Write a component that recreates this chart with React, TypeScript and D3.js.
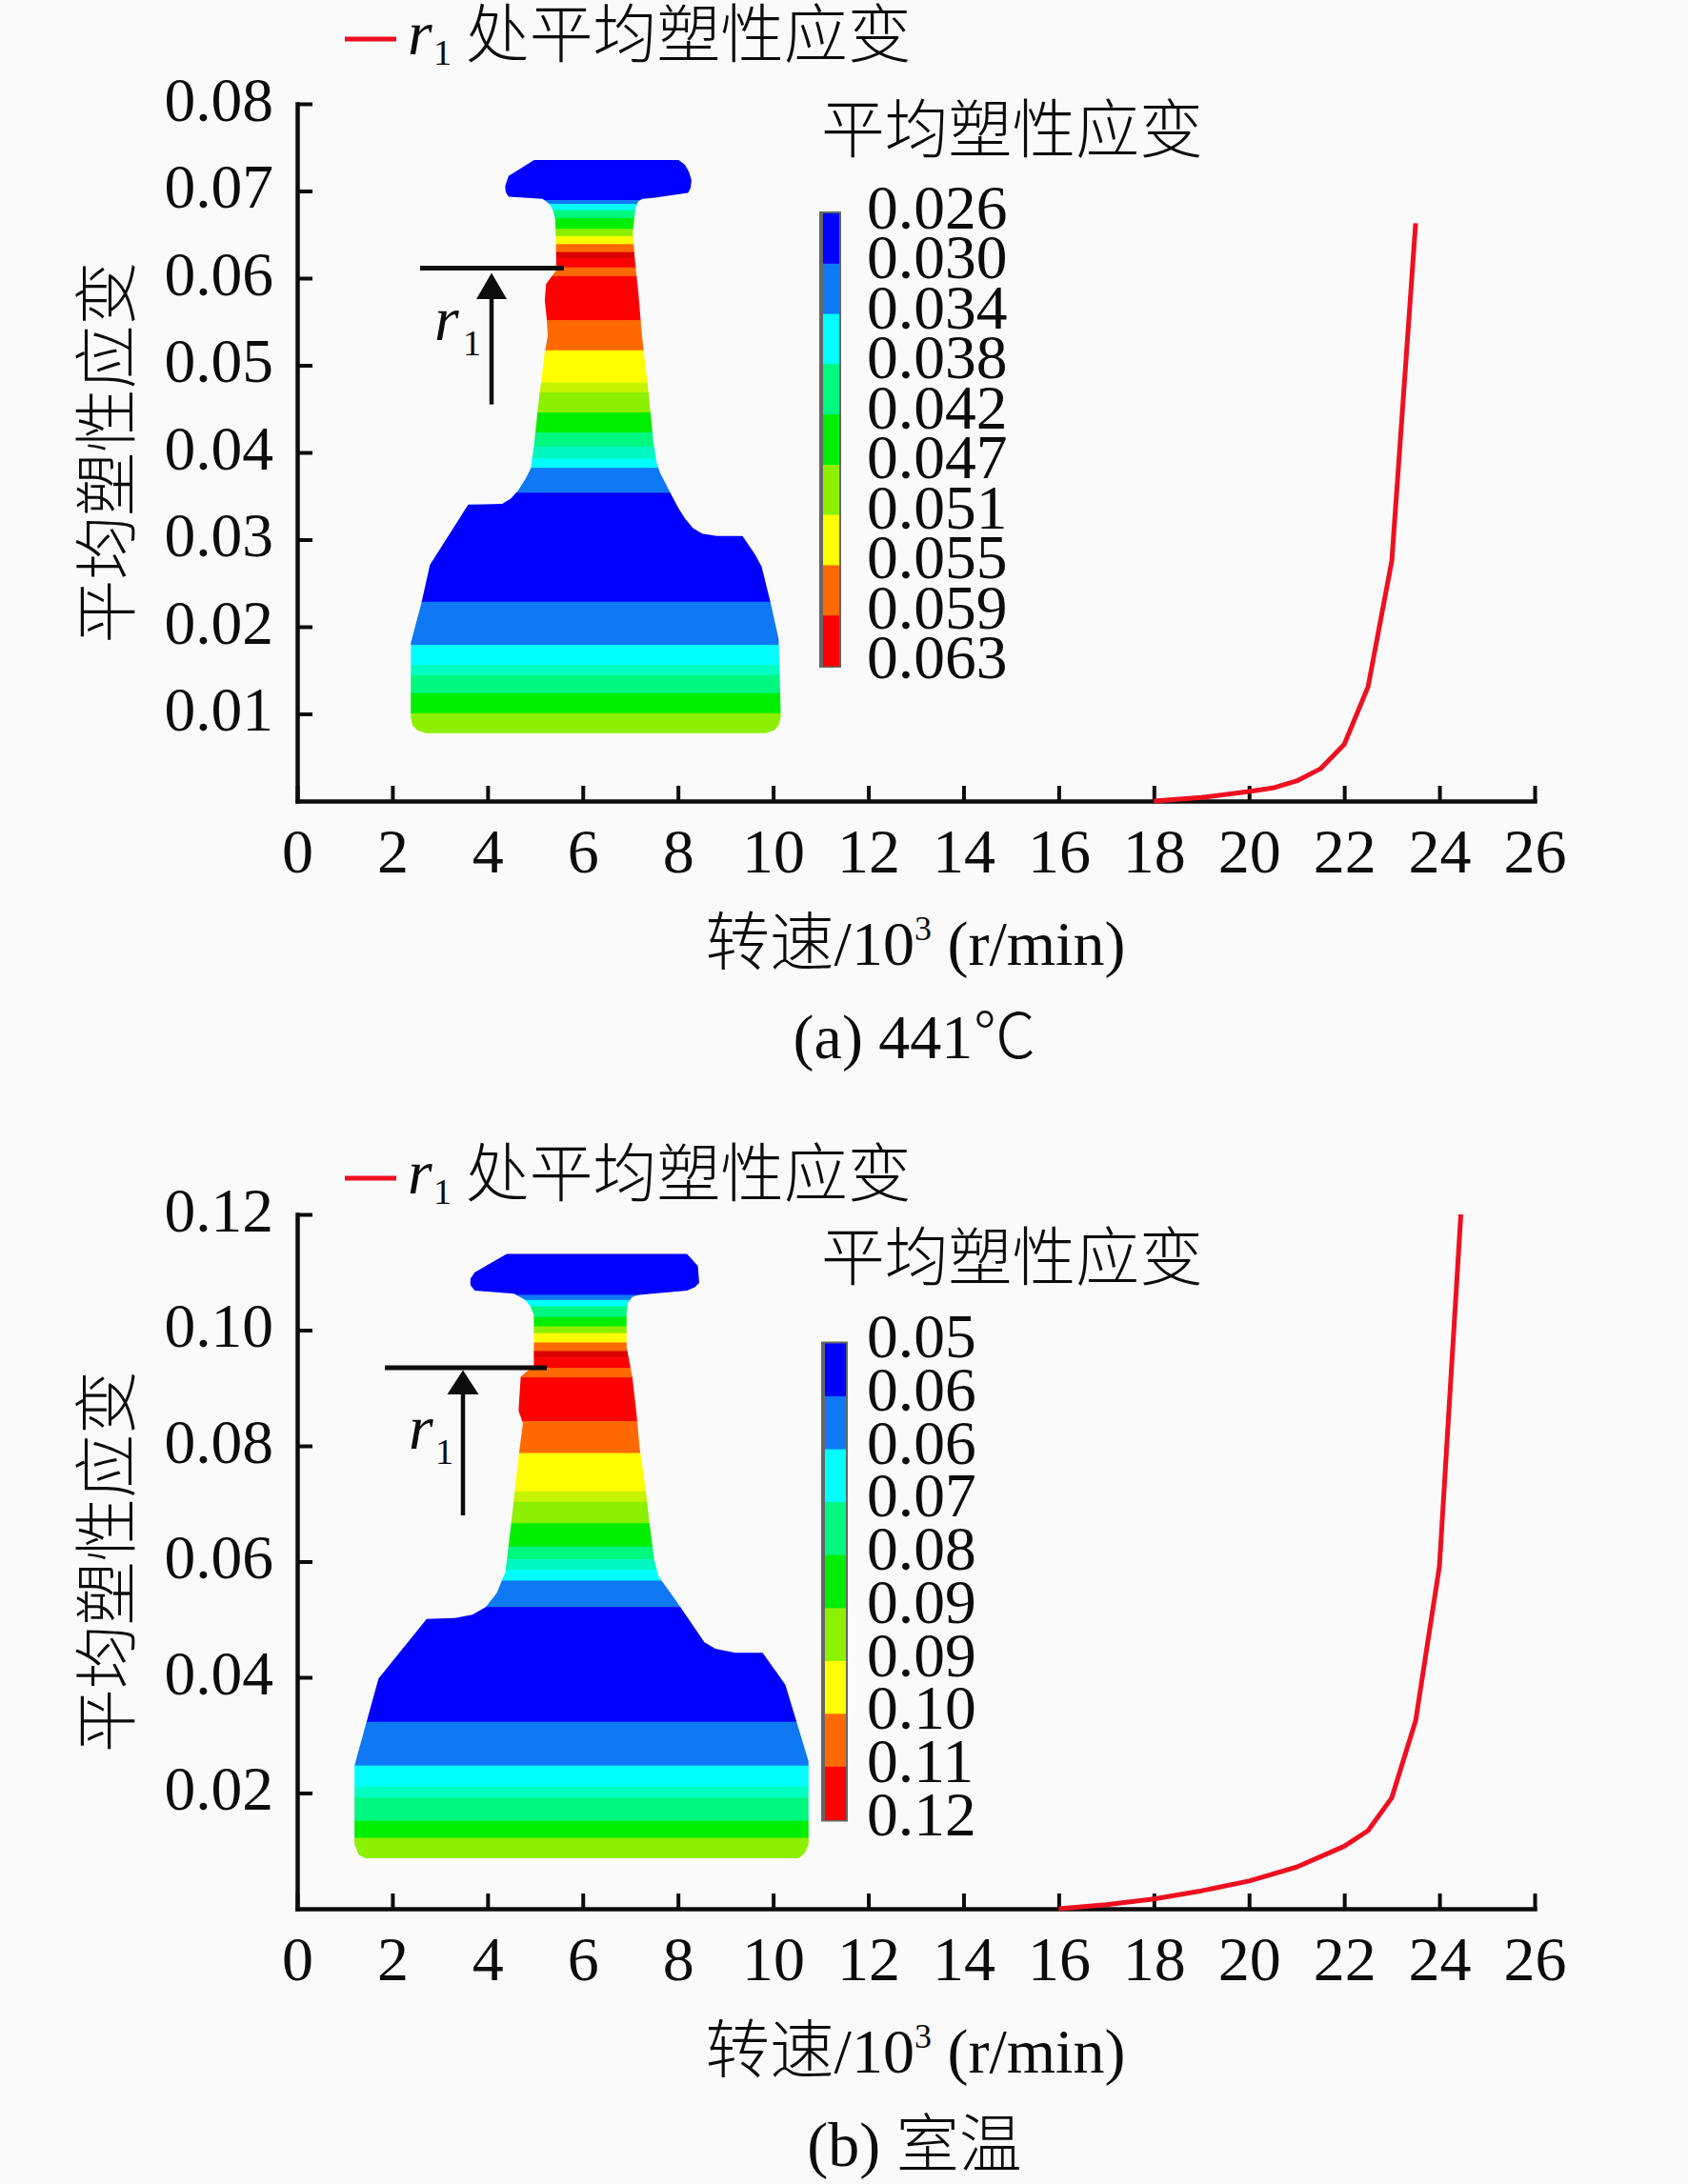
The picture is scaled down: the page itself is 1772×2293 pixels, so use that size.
import { useEffect, useRef } from "react";
import * as d3 from "d3";

const SERIF = "'Liberation Serif', 'Noto Sans CJK SC', serif";
const CJK = "'Noto Sans CJK SC', 'Liberation Serif', sans-serif";

// curve values (speed in 10^3 r/min)
const speedA = [18, 19, 20, 20.5, 21, 21.5, 22, 22.5, 23, 23.5];
const strainA = [0, 0.0004, 0.0011, 0.0015, 0.0023, 0.0037, 0.0065, 0.0131, 0.0276, 0.0663];
const speedB = [16, 17, 18, 19, 20, 21, 22, 22.5, 23, 23.5, 24, 24.45];
const strainB = [0, 0.0007, 0.0017, 0.0031, 0.0048, 0.0072, 0.0108, 0.0135, 0.0192, 0.0325, 0.0592, 0.12];

const xTicks = [0, 2, 4, 6, 8, 10, 12, 14, 16, 18, 20, 22, 24, 26];
const yTicksA = [0.01, 0.02, 0.03, 0.04, 0.05, 0.06, 0.07, 0.08];
const yTicksB = [0.02, 0.04, 0.06, 0.08, 0.1, 0.12];

const barLabelsA = ["0.026", "0.030", "0.034", "0.038", "0.042", "0.047", "0.051", "0.055", "0.059", "0.063"];
const barLabelsB = ["0.05", "0.06", "0.06", "0.07", "0.08", "0.09", "0.09", "0.10", "0.11", "0.12"];

// contour colours, low strain to high strain
const barColors = ["#0000ff", "#0f78f5", "#00ffff", "#00f880", "#00ee00", "#8cf000", "#ffff00", "#ff6a00", "#ff0000"];

// section outlines and contour bands, in inset units (0-1568 across each inset box)
const outlineA: [number, number][] = [
  [360, 90], [700, 90], [715, 103], [724, 120], [730, 140], [728, 160], [722, 172], [640, 185], [615, 187],
  [605, 193], [598, 212], [592, 270], [597, 340], [605, 420], [612, 510], [618, 570], [630, 680], [640, 790],
  [648, 845], [656, 870], [680, 920], [700, 960], [715, 985], [733, 1008], [755, 1022], [790, 1028], [850, 1028],
  [880, 1075], [895, 1105], [915, 1190], [935, 1285], [940, 1480], [935, 1500], [925, 1512], [905, 1520],
  [105, 1520], [85, 1512], [74, 1500], [70, 1480], [70, 1295], [95, 1195], [115, 1100], [145, 1050], [205, 950],
  [285, 948], [305, 935], [322, 915], [340, 885], [352, 860], [360, 800], [372, 680], [385, 570], [392, 530],
  [390, 490], [385, 440], [388, 400], [412, 365], [412, 340], [410, 240], [405, 218], [396, 200], [380, 187],
  [300, 182], [293, 170], [292, 155], [300, 130],
];
const bandEdgesA = [0, 190, 200, 215, 235, 262, 280, 300, 320, 335, 358, 380, 490, 565, 645, 670, 720, 770, 805, 835, 858, 920, 1192, 1300, 1350, 1375, 1420, 1470, 1568];

const outlineB: [number, number][] = [
  [418, 82], [830, 82], [855, 110], [858, 150], [848, 160], [830, 168], [720, 178], [705, 183], [695, 197],
  [692, 220], [692, 300], [705, 370], [715, 460], [722, 540], [735, 630], [745, 720], [755, 800], [765, 840],
  [800, 890], [850, 965], [870, 995], [895, 1010], [940, 1020], [1003, 1020], [1055, 1095], [1108, 1275],
  [1108, 1470], [1100, 1490], [1085, 1503], [95, 1503], [80, 1495], [70, 1470], [70, 1285], [125, 1080],
  [235, 940], [300, 938], [340, 930], [370, 912], [395, 880], [415, 830], [430, 700], [445, 560], [455, 480],
  [445, 450], [450, 370], [480, 345], [480, 225], [472, 205], [460, 190], [435, 175], [345, 168], [335, 155],
  [335, 140], [345, 125],
];
const bandEdgesB = [0, 178, 190, 205, 230, 252, 268, 290, 310, 325, 350, 372, 475, 550, 640, 665, 715, 770, 800, 825, 850, 912, 1182, 1285, 1335, 1360, 1415, 1455, 1568];

// both sections show the same run of colours from rim to base
const bandFills = [
  "#0000ff", "#0f78f5", "#00ffff", "#00f880", "#00ee00", "#8cf000", "#ffff00", "#ff6a00", "#dc0000", "#ff0000",
  "#ff6a00", "#ff0000", "#ff6a00", "#ffff00", "#c4f400", "#8cf000", "#00ee00", "#00f880", "#00f8c0", "#00ffff",
  "#0f78f5", "#0000ff", "#0f78f5", "#00ffff", "#00ffc0", "#00f880", "#00ee00", "#8cf000",
];

const LEGEND = "处平均塑性应变";
const TITLE = "平均塑性应变";

const W = 1772;
const H = 2293;
const X0 = 312;
const X1 = 1611;
const INK = "#0c0c0c";

interface PanelProps {
  id: string;
  speed: number[];
  strain: number[];
  yTicks: number[];
  yMax: number;
  yTop: number;
  yBottom: number;
  legendY: number;
  outline: [number, number][];
  bandEdges: number[];
  insetX: [number, number];
  insetY: [number, number];
  bar: { x: number; w: number; top: number; bottom: number; labelTop: number; labelBottom: number; titleY: number };
  barLabels: string[];
  marker: { x0: number; x1: number; y: number; arrowX: number; tip: number; base: number; tail: number; half: number; rX: number; rY: number; subX: number; subY: number };
  caption: string[];
}

const R1 = ({ x, y, subX, subY, size }: { x: number; y: number; subX: number; subY: number; size: number }) => (
  <g fontFamily={SERIF} fill={INK}>
    <text x={x} y={y} fontSize={size} fontStyle="italic">r</text>
    <text x={subX} y={subY} fontSize={size * 0.58}>1</text>
  </g>
);

const Panel = (p: PanelProps) => {
  const xAxisRef = useRef<SVGGElement>(null);
  const yAxisRef = useRef<SVGGElement>(null);

  const xScale = d3.scaleLinear().domain([0, 26]).range([X0, X1]);
  const yScale = d3.scaleLinear().domain([0, p.yMax]).range([p.yBottom, p.yTop]);

  useEffect(() => {
    const xAxis = d3.axisBottom(xScale).tickValues(xTicks).tickSize(-16).tickSizeOuter(0).tickFormat((d) => String(d));
    const xg = d3.select(xAxisRef.current).call(xAxis as any);
    xg.select(".domain").attr("stroke", INK).attr("stroke-width", 4.5).attr("stroke-linecap", "square");
    xg.selectAll(".tick line").attr("stroke", INK).attr("stroke-width", 4);
    xg.selectAll(".tick text")
      .attr("y", 75)
      .attr("dy", 0)
      .attr("fill", INK)
      .attr("font-family", SERIF)
      .attr("font-size", 66);

    const yAxis = d3.axisLeft(yScale).tickValues(p.yTicks).tickSize(-16).tickSizeOuter(0).tickFormat(d3.format(".2f") as any);
    const yg = d3.select(yAxisRef.current).call(yAxis as any);
    yg.select(".domain").attr("stroke", INK).attr("stroke-width", 4.5).attr("stroke-linecap", "square");
    yg.selectAll(".tick line").attr("stroke", INK).attr("stroke-width", 4);
    yg.selectAll(".tick text")
      .attr("x", -25)
      .attr("dy", 17)
      .attr("fill", INK)
      .attr("font-family", SERIF)
      .attr("font-size", 65.5);
  }, []);

  const curve = d3.line<number>()
    .x((d) => xScale(d))
    .y((_, i) => yScale(p.strain[i]))
    .curve(d3.curveLinear);

  const insetXScale = d3.scaleLinear().domain([0, 1568]).range(p.insetX);
  const insetYScale = d3.scaleLinear().domain([0, 1568]).range(p.insetY);
  const outlinePath = d3.line<[number, number]>()
    .x((d) => insetXScale(d[0]))
    .y((d) => insetYScale(d[1]))
    .curve(d3.curveLinearClosed);

  const barIdx = barColors.map((_, i) => i);
  const barScale = d3.scaleBand<number>().domain(barIdx).range([p.bar.top, p.bar.bottom]);
  const labelScale = d3.scalePoint<number>().domain(p.barLabels.map((_, i) => i)).range([p.bar.labelTop, p.bar.labelBottom]);
  const m = p.marker;
  const clipId = "section-" + p.id;

  return (
    <g>
      <defs>
        <clipPath id={clipId}>
          <path d={outlinePath(p.outline) ?? ""} />
        </clipPath>
      </defs>

      {/* section contour */}
      <g clipPath={`url(#${clipId})`}>
        {bandFills.map((c, i) => (
          <rect
            key={i}
            x={p.insetX[0]}
            width={p.insetX[1] - p.insetX[0]}
            y={insetYScale(p.bandEdges[i])}
            height={insetYScale(p.bandEdges[i + 1]) - insetYScale(p.bandEdges[i]) + 0.5}
            fill={c}
          />
        ))}
      </g>

      {/* r1 marker */}
      <line x1={m.x0} x2={m.x1} y1={m.y} y2={m.y} stroke={INK} strokeWidth={5} />
      <line x1={m.arrowX} x2={m.arrowX} y1={m.base} y2={m.tail} stroke={INK} strokeWidth={4.5} />
      <path d={`M${m.arrowX},${m.tip}L${m.arrowX + m.half},${m.base}L${m.arrowX - m.half},${m.base}Z`} fill={INK} />
      <R1 x={m.rX} y={m.rY} subX={m.subX} subY={m.subY} size={66} />

      {/* colour bar */}
      <text x={862} y={p.bar.titleY} fontFamily={CJK} fontSize={66.8} fontWeight={300} fill={INK}>{TITLE}</text>
      <rect x={p.bar.x - 1} y={p.bar.top - 2} width={p.bar.w + 2} height={p.bar.bottom - p.bar.top + 4} fill="#666" />
      {barIdx.map((i) => (
        <rect key={i} x={p.bar.x + 3} width={p.bar.w - 4} y={barScale(i)} height={barScale.bandwidth() + 0.5} fill={barColors[i]} />
      ))}
      {p.barLabels.map((t, i) => (
        <text key={i} x={910} y={(labelScale(i) ?? 0) + 22} fontFamily={SERIF} fontSize={65.5} fill={INK}>{t}</text>
      ))}

      {/* axes, then the curve on top */}
      <g ref={yAxisRef} transform={`translate(${X0},0)`} />
      <g ref={xAxisRef} transform={`translate(0,${p.yBottom})`} />
      <path d={curve(p.speed) ?? ""} fill="none" stroke="#ee1020" strokeWidth={5} strokeLinejoin="round" />

      {/* legend */}
      <line x1={362} x2={416} y1={p.legendY} y2={p.legendY} stroke="#ee1020" strokeWidth={5} />
      <R1 x={428} y={p.legendY + 16} subX={455} subY={p.legendY + 27} size={66} />
      <text x={489} y={p.legendY + 19} fontFamily={CJK} fontSize={66.8} fontWeight={300} fill={INK}>{LEGEND}</text>

      {/* axis titles */}
      <text
        transform={`translate(136,${(p.yTop + p.yBottom) / 2}) rotate(-90)`}
        textAnchor="middle"
        fontFamily={CJK}
        fontSize={66.8}
        fontWeight={300}
        fill={INK}
      >
        {TITLE}
      </text>
      <text x={961} y={p.yBottom + 172} textAnchor="middle" fontFamily={SERIF} fontSize={66} fill={INK}>
        <tspan fontFamily={CJK} fontSize={67.5} fontWeight={300}>转速</tspan>
        <tspan>/10</tspan>
        <tspan fontSize={36} dy={-26}>3</tspan>
        <tspan dy={26}> (r/min)</tspan>
      </text>
      <text x={960} y={p.yBottom + 270} textAnchor="middle" fontFamily={SERIF} fontSize={66} fill={INK}>
        {p.caption.map((c, i) => (
          <tspan key={i} fontFamily={i === 1 ? CJK : SERIF} fontWeight={i === 1 ? 300 : 400}>{c}</tspan>
        ))}
      </text>
    </g>
  );
};

export default function App() {
  return (
    <svg width={W} height={H} viewBox={`0 0 ${W} ${H}`} style={{ position: "absolute", left: 0, top: 0, display: "block" }}>
      <rect width={W} height={H} fill="#fafafa" />
      <Panel
        id="a"
        speed={speedA}
        strain={strainA}
        yTicks={yTicksA}
        yMax={0.08}
        yTop={109}
        yBottom={841}
        legendY={41}
        outline={outlineA}
        bandEdges={bandEdgesA}
        insetX={[400, 1100]}
        insetY={[130, 790]}
        bar={{ x: 861, w: 21, top: 224, bottom: 699, labelTop: 218, labelBottom: 690, titleY: 160 }}
        barLabels={barLabelsA}
        marker={{ x0: 441, x1: 592, y: 281.5, arrowX: 516, tip: 286.6, base: 314, tail: 424.6, half: 16, rX: 456, rY: 357, subX: 486, subY: 373 }}
        caption={["(a) 441", "℃"]}
      />
      <Panel
        id="b"
        speed={speedB}
        strain={strainB}
        yTicks={yTicksB}
        yMax={0.12}
        yTop={1275}
        yBottom={2004}
        legendY={1237}
        outline={outlineB}
        bandEdges={bandEdgesB}
        insetX={[340, 1060]}
        insetY={[1280, 1980]}
        bar={{ x: 863, w: 26, top: 1410.5, bottom: 1910.5, labelTop: 1403, labelBottom: 1905, titleY: 1344 }}
        barLabels={barLabelsB}
        marker={{ x0: 404, x1: 574, y: 1436, arrowX: 486, tip: 1438.5, base: 1464, tail: 1591, half: 16.5, rX: 429, rY: 1521, subX: 457, subY: 1537 }}
        caption={["(b) ", "室温"]}
      />
    </svg>
  );
}
